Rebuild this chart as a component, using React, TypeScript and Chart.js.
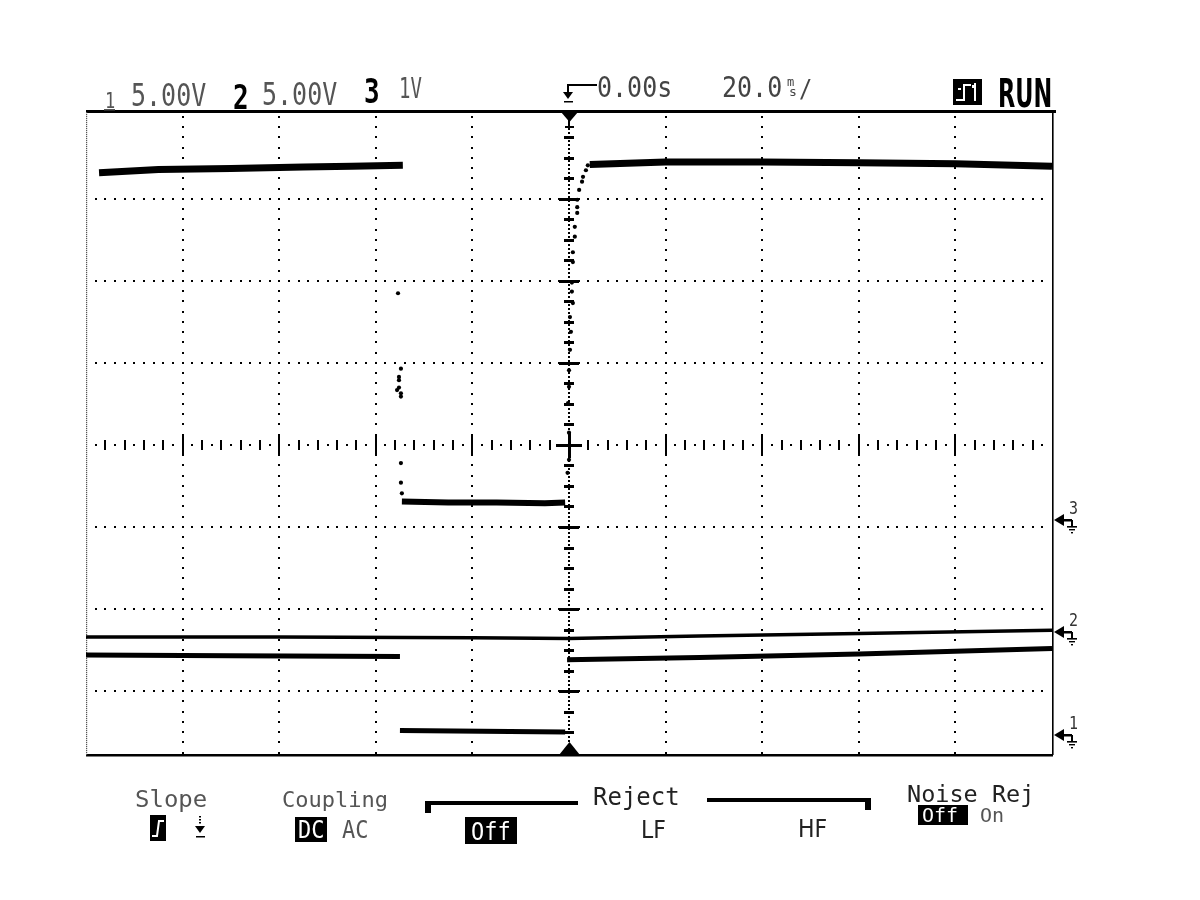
import React, { useEffect, useRef } from "react";
import { Chart, registerables } from "chart.js";

Chart.register(...registerables);

// ---- Data (time in ms, level in screen divisions from centre) ----
// Channel 3 (1 V/div)
const ch3HighBeforeMs = [-97.3, -85, -70, -55, -45, -34.4];
const ch3HighBeforeDiv = [3.32, 3.36, 3.37, 3.39, 3.4, 3.41];
const ch3FallMs = [-35.4, -34.8, -35.2, -35.2, -35.2, -35.6, -34.8, -34.8, -34.8, -34.8, -34.6];
const ch3FallDiv = [1.85, 0.93, 0.83, 0.79, 0.7, 0.67, 0.63, 0.59, -0.22, -0.46, -0.59];
const ch3LowMs = [-34.6, -25, -15, -5, -0.8];
const ch3LowDiv = [-0.69, -0.7, -0.7, -0.71, -0.7];
const ch3RiseMs = [-0.3, 0, 0, -0.2, 0, 0, 0.2, 0.4, 0.2, 0.8, 0.6, 0.6, 0.8, 0.8, 1.2, 1.2, 1.7, 1.7, 1.7, 2.1, 2.7, 2.9, 3.5, 3.9];
const ch3RiseDiv = [-0.34, -0.18, 0.15, 0.51, 0.71, 0.91, 1.16, 1.38, 1.56, 1.73, 1.87, 1.98, 2.23, 2.35, 2.54, 2.66, 2.83, 2.9, 2.99, 3.11, 3.21, 3.27, 3.35, 3.41];
const ch3HighAfterMs = [4.3, 20, 40, 60, 80, 100];
const ch3HighAfterDiv = [3.42, 3.45, 3.45, 3.44, 3.43, 3.4];

// Channel 2 (5 V/div)
const ch2Ms = [-100, -60, -20, 0, 27, 60, 100];
const ch2Div = [-2.34, -2.34, -2.35, -2.36, -2.33, -2.3, -2.26];

// Channel 1 (5 V/div)
const ch1HighBeforeMs = [-100, -70, -35.0];
const ch1HighBeforeDiv = [-2.56, -2.57, -2.58];
const ch1LowMs = [-35.0, -18, -0.8];
const ch1LowDiv = [-3.48, -3.49, -3.5];
const ch1HighAfterMs = [-0.4, 27, 60, 100];
const ch1HighAfterDiv = [-2.62, -2.59, -2.55, -2.48];

// Ground reference markers on the right edge
const channelNames = ["1", "2", "3"];
const groundDiv = [-3.54, -2.28, -0.91];
const channelScales = ["5.00V", "5.00V", "1V"];

// Grid
const xGridMs = [-80, -60, -40, -20, 20, 40, 60, 80];
const yGridDiv = [-3, -2, -1, 1, 2, 3];
const X_MIN = -100;
const X_MAX = 100;
const Y_MIN = -3.78;
const Y_MAX = 4.06;

const timeLabels = ["0.00s", "20.0"];
const menuLabels = ["Slope", "Coupling", "DC", "AC", "Off", "Reject", "LF", "HF", "Noise Rej", "Off", "On"];

const MONO = '"DejaVu Sans Mono", "Liberation Mono", monospace';
const SANS = '"DejaVu Sans", sans-serif';

type TOpts = { vs?: number; hs?: number; bold?: boolean; color?: string; family?: string };
function drawText(ctx: CanvasRenderingContext2D, s: string, x: number, base: number, size: number, o: TOpts = {}) {
  ctx.save();
  ctx.translate(x, base);
  ctx.scale(o.hs ?? 1, o.vs ?? 1);
  ctx.font = `${o.bold ? "bold " : ""}${size}px ${o.family ?? MONO}`;
  ctx.fillStyle = o.color ?? "#333";
  ctx.textBaseline = "alphabetic";
  ctx.textAlign = "left";
  ctx.fillText(s, 0, 0);
  ctx.restore();
}

function tri(ctx: CanvasRenderingContext2D, a: number[], b: number[], c: number[]) {
  ctx.beginPath();
  ctx.moveTo(a[0], a[1]);
  ctx.lineTo(b[0], b[1]);
  ctx.lineTo(c[0], c[1]);
  ctx.closePath();
  ctx.fill();
}

const scopePlugin = {
  id: "scopeScreen",
  beforeDatasetsDraw(chart: any) {
    const { ctx, chartArea: a, scales } = chart;
    const px = (v: number) => scales.x.getPixelForValue(v);
    const py = (v: number) => scales.y.getPixelForValue(v);
    const cx = Math.round(px(0));
    const cy = Math.round(py(0));
    ctx.save();
    ctx.fillStyle = "#000";

    // dotted vertical grid lines (8 dots per division)
    for (const t of xGridMs) {
      const x = Math.round(px(t));
      for (let k = -40; k <= 40; k++) {
        const y = py(k * 0.125);
        if (y <= a.top + 2 || y >= a.bottom - 2) continue;
        ctx.fillRect(x - 1, Math.round(y) - 1, 2, 2);
      }
    }
    // dotted horizontal grid lines (10 dots per division)
    for (const d of yGridDiv) {
      const y = Math.round(py(d));
      for (let k = -50; k <= 50; k++) {
        const x = px(k * 2);
        if (x <= a.left + 3 || x >= a.right - 3) continue;
        ctx.fillRect(Math.round(x) - 1, y - 1, 2, 2);
      }
    }

    // centre horizontal axis with minor ticks
    for (let j = -50; j <= 50; j++) {
      const x = Math.round(px(j * 2));
      if (x <= a.left + 3 || x >= a.right - 3 || j === 0) continue;
      if (j % 10 === 0) ctx.fillRect(x - 1, cy - 11, 2, 22);
      else if (j % 2 === 0) ctx.fillRect(x - 1, cy - 5, 2, 10);
      else ctx.fillRect(x - 1, cy - 1, 2, 2);
    }
    // centre vertical axis (dense dots + ticks)
    for (let y = a.top + 4; y < a.bottom - 2; y += 4) ctx.fillRect(cx - 1, y, 2, 2);
    for (let j = -20; j <= 20; j++) {
      const v = j * 0.25;
      const y = Math.round(py(v));
      if (y <= a.top + 14 || y >= a.bottom - 14 || j === 0) continue;
      if (j % 4 === 0) ctx.fillRect(cx - 10, y - 1, 20, 3);
      else ctx.fillRect(cx - 5, y - 1, 10, 3);
    }
    // centre cross
    ctx.fillRect(cx - 13, cy - 1, 26, 3);
    ctx.fillRect(cx - 1, cy - 13, 3, 26);

    // frame
    ctx.fillRect(a.left, a.top - 2, a.right - a.left + 4, 3);
    ctx.fillRect(a.left, a.bottom - 1, a.right - a.left + 1, 2.5);
    ctx.fillRect(a.right, a.top, 1.6, a.bottom - a.top);
    ctx.fillStyle = "#555";
    for (let y = a.top; y < a.bottom; y += 2) ctx.fillRect(a.left, y, 1.2, 1.2);
    ctx.fillStyle = "#000";

    // trigger position markers
    tri(ctx, [cx - 8, a.top], [cx + 9, a.top], [cx + 0.5, a.top + 10]);
    ctx.fillRect(cx - 1, a.top + 9, 2, 5);
    ctx.fillRect(cx - 4, a.top + 14, 9, 2);
    tri(ctx, [cx - 10, a.bottom], [cx + 11, a.bottom], [cx + 0.5, a.bottom - 13]);
    ctx.restore();
  },
  afterDraw(chart: any) {
    const { ctx, chartArea: a, scales } = chart;
    const px = (v: number) => scales.x.getPixelForValue(v);
    const py = (v: number) => scales.y.getPixelForValue(v);
    const cx = Math.round(px(0));
    ctx.save();
    ctx.fillStyle = "#000";

    // ground markers
    channelNames.forEach((name, i) => {
      const y = Math.round(py(groundDiv[i]));
      const x0 = a.right + 2;
      tri(ctx, [x0, y], [x0 + 10, y - 6], [x0 + 10, y + 6]);
      ctx.fillRect(x0 + 10, y - 1, 8, 2.5);
      ctx.fillRect(x0 + 17, y, 2, 6);
      ctx.fillRect(x0 + 13, y + 6, 10, 1.6);
      ctx.fillRect(x0 + 15, y + 9, 6, 1.4);
      ctx.fillRect(x0 + 17, y + 12, 2, 1.4);
      drawText(ctx, name, x0 + 15, y - 6, 15, { vs: 1.2, color: "#333" });
    });

    // header
    drawText(ctx, channelNames[0], 105, 108, 17, { vs: 1.2, color: "#555" });
    ctx.fillStyle = "#555";
    ctx.fillRect(104, 109, 11, 1.5);
    drawText(ctx, channelScales[0], 131, 106, 25, { vs: 1.3, color: "#555" });
    drawText(ctx, channelNames[1], 233, 109, 26, { vs: 1.3, bold: true, color: "#000" });
    drawText(ctx, channelScales[1], 262, 105, 25, { vs: 1.3, color: "#555" });
    drawText(ctx, channelNames[2], 364, 103, 26, { vs: 1.3, bold: true, color: "#000" });
    drawText(ctx, channelScales[2], 399, 98, 19, { vs: 1.45, color: "#555" });

    ctx.fillStyle = "#000";
    ctx.fillRect(cx - 2, 84, 30, 2);
    ctx.fillRect(cx - 2, 84, 2, 10);
    tri(ctx, [cx - 6, 92], [cx + 4, 92], [cx - 1, 99]);
    ctx.fillRect(cx - 5, 101, 9, 1.5);
    drawText(ctx, timeLabels[0], 597, 97, 25, { vs: 1.1, color: "#444" });
    drawText(ctx, timeLabels[1], 722, 97, 25, { vs: 1.1, color: "#444" });
    drawText(ctx, "m", 787, 86, 12, { vs: 1.0, color: "#444" });
    drawText(ctx, "s", 789, 96, 13, { vs: 1.0, color: "#444" });
    drawText(ctx, "/", 799, 97, 22, { vs: 1.1, color: "#444" });

    // run icon
    ctx.fillStyle = "#000";
    ctx.fillRect(953, 79, 29, 26);
    ctx.fillStyle = "#fff";
    ctx.fillRect(956, 99, 8, 2);
    ctx.fillRect(963, 84, 2, 17);
    ctx.fillRect(963, 84, 8, 2);
    ctx.fillRect(974, 83, 2, 18);
    ctx.fillRect(972, 85, 2, 3);
    ctx.fillRect(958, 88, 3, 2);
    drawText(ctx, "RUN", 998, 107, 28, { bold: true, family: SANS, hs: 0.8, vs: 1.4, color: "#000" });

    // footer menu
    drawText(ctx, menuLabels[0], 135, 807, 24, { vs: 0.95, color: "#555" });
    ctx.fillStyle = "#000";
    ctx.fillRect(150, 815, 16, 26);
    ctx.strokeStyle = "#fff";
    ctx.lineWidth = 2;
    ctx.beginPath();
    ctx.moveTo(152, 836);
    ctx.lineTo(157, 836);
    ctx.lineTo(159, 821);
    ctx.lineTo(164, 821);
    ctx.stroke();
    ctx.fillStyle = "#000";
    for (let y = 816; y < 825; y += 3) ctx.fillRect(199, y, 2, 1.5);
    tri(ctx, [195, 826], [205, 826], [200, 833]);
    ctx.fillRect(196, 836, 9, 1.5);

    drawText(ctx, menuLabels[1], 282, 807, 22, { vs: 1.0, color: "#555" });
    ctx.fillStyle = "#000";
    ctx.fillRect(295, 817, 32, 25);
    drawText(ctx, menuLabels[2], 298, 838, 22, { vs: 1.15, color: "#fff" });
    drawText(ctx, menuLabels[3], 342, 838, 22, { vs: 1.1, color: "#555" });

    ctx.fillStyle = "#000";
    ctx.fillRect(425, 801, 153, 4);
    ctx.fillRect(425, 801, 6, 12);
    ctx.fillRect(465, 817, 52, 27);
    drawText(ctx, menuLabels[4], 471, 840, 22, { vs: 1.15, color: "#fff" });
    drawText(ctx, menuLabels[5], 593, 805, 24, { vs: 1.0, color: "#222" });
    ctx.fillStyle = "#000";
    ctx.fillRect(707, 798, 163, 4);
    ctx.fillRect(865, 798, 6, 12);
    drawText(ctx, menuLabels[6], 641, 838, 22, { vs: 1.15, family: SANS, color: "#222" });
    drawText(ctx, menuLabels[7], 798, 837, 22, { vs: 1.15, family: SANS, color: "#222" });

    drawText(ctx, menuLabels[8], 907, 802, 23.5, { vs: 1.0, color: "#222" });
    ctx.fillStyle = "#000";
    ctx.fillRect(918, 805, 50, 20);
    drawText(ctx, menuLabels[9], 922, 822, 20, { vs: 1.0, color: "#fff" });
    drawText(ctx, menuLabels[10], 980, 822, 20, { vs: 1.0, color: "#555" });
    ctx.restore();
  },
};

const pts = (t: number[], v: number[]) => t.map((x, i) => ({ x, y: v[i] }));

function lineSet(label: string, t: number[], v: number[], w: number) {
  return {
    label,
    data: pts(t, v),
    showLine: true,
    borderColor: "#000",
    backgroundColor: "#000",
    borderWidth: w,
    pointRadius: 0,
    tension: 0,
    borderCapStyle: "butt",
    borderJoinStyle: "round",
  };
}

function dotSet(label: string, t: number[], v: number[], r: number) {
  return {
    label,
    data: pts(t, v),
    showLine: false,
    pointRadius: r,
    pointBackgroundColor: "#000",
    pointBorderColor: "#000",
    pointBorderWidth: 0,
  };
}

export default function App() {
  const ref = useRef<HTMLCanvasElement>(null);

  useEffect(() => {
    const canvas = ref.current;
    if (!canvas) return;
    const chart = new Chart(canvas, {
      type: "scatter",
      data: {
        datasets: [
          lineSet("ch3 high", ch3HighBeforeMs, ch3HighBeforeDiv, 7),
          dotSet("ch3 fall", ch3FallMs, ch3FallDiv, 2.1),
          lineSet("ch3 low", ch3LowMs, ch3LowDiv, 6),
          dotSet("ch3 rise", ch3RiseMs, ch3RiseDiv, 2.1),
          lineSet("ch3 high 2", ch3HighAfterMs, ch3HighAfterDiv, 7),
          lineSet("ch2", ch2Ms, ch2Div, 3.5),
          lineSet("ch1 high", ch1HighBeforeMs, ch1HighBeforeDiv, 5),
          lineSet("ch1 low", ch1LowMs, ch1LowDiv, 5),
          lineSet("ch1 high 2", ch1HighAfterMs, ch1HighAfterDiv, 5),
        ] as any,
      },
      options: {
        animation: false,
        responsive: false,
        events: [],
        layout: { padding: { left: 86, right: 1200 - 1052, top: 112, bottom: 900 - 755 } },
        plugins: { legend: { display: false }, tooltip: { enabled: false } },
        scales: {
          x: { type: "linear", min: X_MIN, max: X_MAX, display: false },
          y: { type: "linear", min: Y_MIN, max: Y_MAX, display: false },
        },
      } as any,
      plugins: [scopePlugin],
    });
    return () => chart.destroy();
  }, []);

  return (
    <div style={{ position: "fixed", left: 0, top: 0, width: 1200, height: 900, background: "#fff" }}>
      <canvas ref={ref} width={1200} height={900} style={{ width: 1200, height: 900, display: "block" }} />
    </div>
  );
}
